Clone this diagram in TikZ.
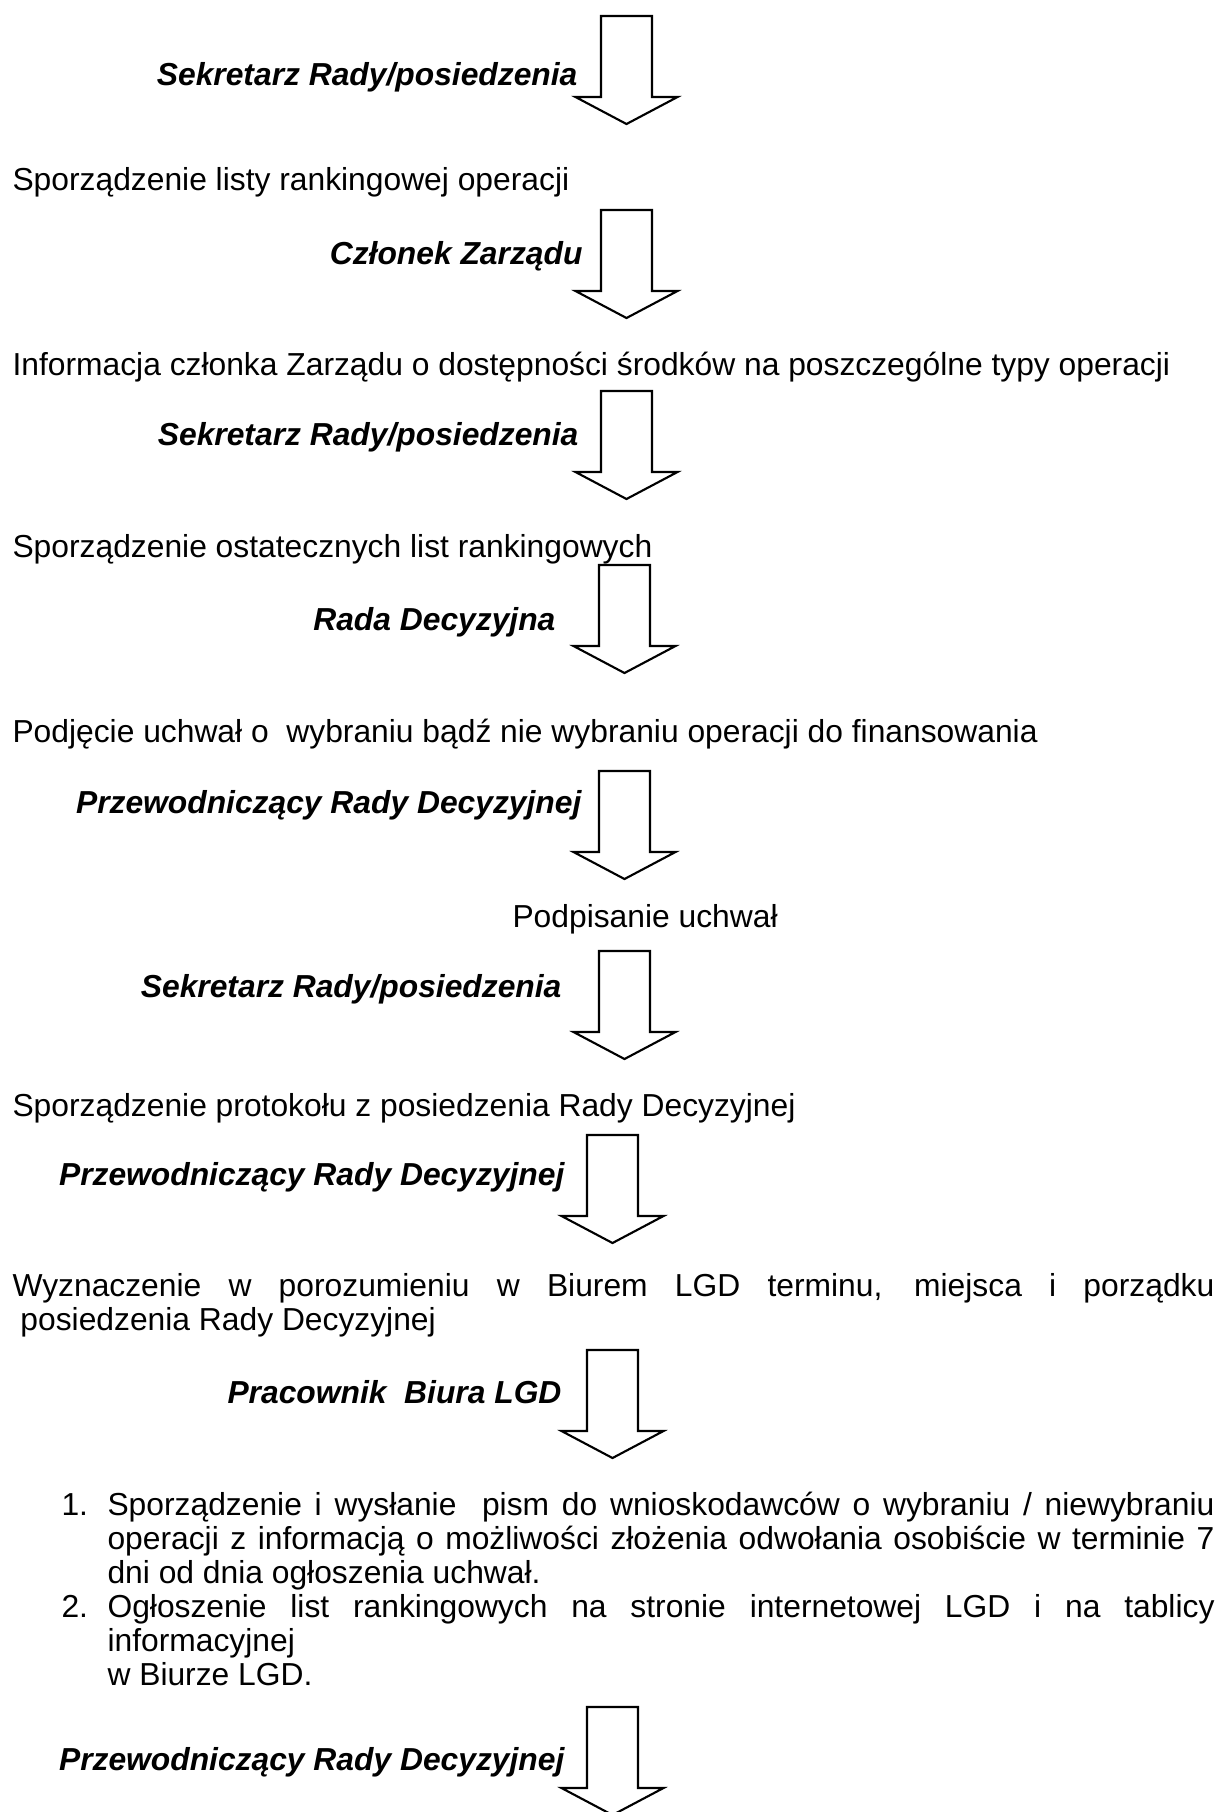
\documentclass[tikz,border=0pt]{standalone}
\usepackage{fontspec}
\setmainfont{Liberation Sans}
\usetikzlibrary{calc}
\hyphenpenalty=10000
\exhyphenpenalty=10000
\tolerance=9999
\tikzset{
    every node/.style={inner sep=0pt, font=\fontsize{12}{12.83}\selectfont},
    rola/.style={anchor=base east, font=\fontsize{12}{12.83}\selectfont\bfseries\itshape},
    krok/.style={anchor=base west},
    akapit/.style={krok, text width=#1, align=justify},
    strzalka/.style={draw, line width=0.8pt, line join=miter},
  }
\begin{document}
\begin{tikzpicture}[x=0.3774pt, y=-0.3774pt]
	\useasboundingbox (0,0) rectangle (1225,1812);
	\clip (0,0) rectangle (1225,1812);

	%STRZALKI
	\foreach \i/\x/\y in {1/601/16, 2/601/210, 3/601/391, 4/599/565, 5/599/771, 6/599/951, 7/587/1135, 8/587/1350, 9/587/1707}{
	  \coordinate (a\i) at (\x,\y);
	  \draw[strzalka] (a\i) -- ++(0,81) -- ++(-25.5,0) -- ++(51,27) -- ++(51,-27) -- ++(-25.5,0) -- ++(0,-81) -- cycle;
	}

	%ROLE
	\node[rola] (rola1) at (578,85) {Sekretarz Rady/posiedzenia};
	\node[rola] (rola2) at (583,264) {Członek Zarządu};
	\node[rola] (rola3) at (579,445) {Sekretarz Rady/posiedzenia};
	\node[rola] (rola4) at (556,630) {Rada Decyzyjna};
	\node[rola] (rola5) at (582,813) {Przewodniczący Rady Decyzyjnej};
	\node[rola] (rola6) at (562,997) {Sekretarz Rady/posiedzenia};
	\node[rola] (rola7) at (565,1185) {Przewodniczący Rady Decyzyjnej};
	\node[rola] (rola8) at (562,1403) {Pracownik\ \ Biura LGD};
	\node[rola] (rola9) at (565,1770) {Przewodniczący Rady Decyzyjnej};

	%KROKI
	\node[krok] (krok1) at (12,190) {Sporządzenie listy rankingowej operacji};
	\node[krok] (krok2) at (12,375) {Informacja członka Zarządu o dostępności środków na poszczególne typy operacji};
	\node[krok] (krok3) at (12,557) {Sporządzenie ostatecznych list rankingowych};
	\node[krok] (krok4) at (12,742) {Podjęcie uchwał o\ \ wybraniu bądź nie wybraniu operacji do finansowania};
	\node[krok] (krok5) at (512,927) {Podpisanie uchwał};
	\node[krok] (krok6) at (12,1116) {Sporządzenie protokołu z posiedzenia Rady Decyzyjnej};
	\node[akapit=453.6pt] (krok7) at (12,1296) {Wyznaczenie w porozumieniu w Biurem LGD terminu, miejsca i porządku\linebreak\hspace*{3pt}posiedzenia Rady Decyzyjnej};

	%LISTA
	\node[krok] (nr1) at (61,1515) {1.};
	\node[akapit=417.8pt] (punkt1) at (107,1515) {Sporządzenie i wysłanie\ \ pism do wnioskodawców o wybraniu / niewybraniu\linebreak operacji z informacją o możliwości złożenia odwołania osobiście w terminie 7\linebreak dni od dnia ogłoszenia uchwał.};
	\node[krok] (nr2) at (61,1617) {2.};
	\node[akapit=417.8pt] (punkt2) at (107,1617) {Ogłoszenie list rankingowych na stronie internetowej LGD i na tablicy\linebreak informacyjnej\\ w Biurze LGD.};
\end{tikzpicture}
\end{document}
